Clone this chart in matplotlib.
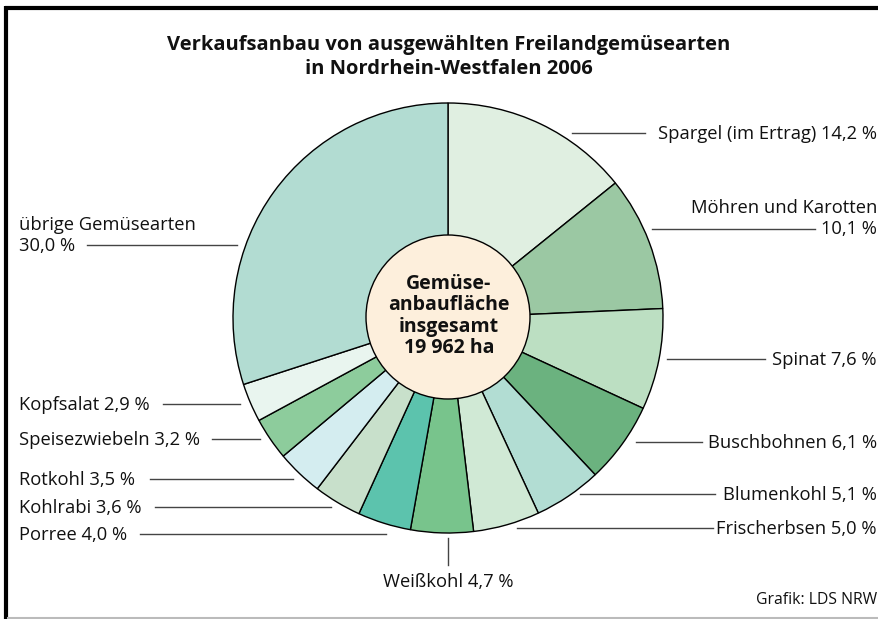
import matplotlib
matplotlib.use("Agg")
import matplotlib.pyplot as plt
from matplotlib.patches import Circle
from matplotlib.lines import Line2D

# ---------------- data ----------------
categories = ["Spargel (im Ertrag)", "Möhren und Karotten", "Spinat", "Buschbohnen",
              "Blumenkohl", "Frischerbsen", "Weißkohl", "Porree", "Kohlrabi",
              "Rotkohl", "Speisezwiebeln", "Kopfsalat", "übrige Gemüsearten"]
shares = [14.2, 10.1, 7.6, 6.1, 5.1, 5.0, 4.7, 4.0, 3.6, 3.5, 3.2, 2.9, 30.0]
colors = ["#e0efe1", "#9bc8a3", "#bcdfc2", "#6bb27f", "#b2ddd3", "#d0e9d5",
          "#78c48c", "#5cc3ad", "#c8e0cb", "#d4edf0", "#8dcc9c", "#e9f5ef", "#b2dcd2"]
title_lines = ["Verkaufsanbau von ausgewählten Freilandgemüsearten",
               "in Nordrhein-Westfalen 2006"]
center_text = "Gemüse-\nanbaufläche\ninsgesamt\n19 962 ha"
source = "Grafik: LDS NRW"

W, H = 879, 619
FONT = "Open Sans"
plt.rcParams["font.family"] = [FONT, "DejaVu Sans"]

fig = plt.figure(figsize=(W / 100, H / 100), dpi=100)
ax = fig.add_axes([0, 0, 1, 1])

def Y(p):
    return H - p

def fmt(v):
    return f"{v:.1f}".replace(".", ",") + " %"

# pie
cx, cy, R = 448, 318, 215
ax.pie(shares, colors=colors, startangle=90, counterclock=False,
       center=(cx, Y(cy)), radius=R,
       wedgeprops=dict(edgecolor="black", linewidth=1.0))
ax.add_patch(Circle((cx, Y(317)), 82, facecolor="#fdefdc", edgecolor="black",
                    linewidth=1.0, zorder=5))
ax.text(cx + 1, Y(316), center_text, ha="center", va="center", fontsize=14,
        fontweight="bold", linespacing=1.08, zorder=6, color="#111111")

ax.set_xlim(0, W)
ax.set_ylim(0, H)
ax.set_aspect("auto")
ax.axis("off")

# frame
ax.add_line(Line2D([5, W], [Y(7.5), Y(7.5)], color="black", lw=3, solid_capstyle="butt"))
ax.add_line(Line2D([6.5, 6.5], [Y(6), Y(H)], color="black", lw=3, solid_capstyle="butt"))
ax.add_line(Line2D([8, W], [Y(617.5), Y(617.5)], color="#bbbbbb", lw=1.5))

# title
ax.text(449, Y(50), title_lines[0], ha="center", va="baseline", fontsize=14.5,
        fontweight="bold", color="#111111")
ax.text(449, Y(74), title_lines[1], ha="center", va="baseline", fontsize=14.5,
        fontweight="bold", color="#111111")

LC = "#444444"
FS = 13.2
TC = "#111111"
# layout: (category index, text x, line y, line x0, line x1)
right = [(0, 877, 133, 572, 645), (2, 877, 359, 667, 765), (3, 877, 442, 636, 702),
         (4, 877, 494, 580, 715), (5, 877, 528, 517, 713)]
for i, tx, ly, x0, x1 in right:
    ax.add_line(Line2D([x0, x1], [Y(ly), Y(ly)], color=LC, lw=1.0))
    ax.text(tx, Y(ly + 6), f"{categories[i]} {fmt(shares[i])}", ha="right",
            va="baseline", fontsize=FS, color=TC)

# Möhren (two lines)
ax.add_line(Line2D([652, 815], [Y(229), Y(229)], color=LC, lw=1.0))
ax.text(877, Y(213), categories[1], ha="right", va="baseline", fontsize=FS, color=TC)
ax.text(877, Y(234), fmt(shares[1]), ha="right", va="baseline", fontsize=FS, color=TC)

left = [(11, 404, 163, 240), (10, 439, 212, 260), (9, 479, 150, 293),
        (8, 507, 155, 331), (7, 534, 140, 386)]
for i, ly, x0, x1 in left:
    ax.add_line(Line2D([x0, x1], [Y(ly), Y(ly)], color=LC, lw=1.0))
    ax.text(19, Y(ly + 6), f"{categories[i]} {fmt(shares[i])}", ha="left",
            va="baseline", fontsize=FS, color=TC)

# übrige (two lines)
ax.add_line(Line2D([87, 237], [Y(245), Y(245)], color=LC, lw=1.0))
ax.text(19, Y(230), categories[12], ha="left", va="baseline", fontsize=FS, color=TC)
ax.text(19, Y(251), fmt(shares[12]), ha="left", va="baseline", fontsize=FS, color=TC)

# Weißkohl (vertical leader)
ax.add_line(Line2D([448, 448], [Y(538), Y(565)], color=LC, lw=1.0))
ax.text(448, Y(587), f"{categories[6]} {fmt(shares[6])}", ha="center",
        va="baseline", fontsize=FS, color=TC)

ax.text(877, Y(604), source, ha="right", va="baseline", fontsize=11.3, color=TC)

fig.savefig("out.png", dpi=100)
